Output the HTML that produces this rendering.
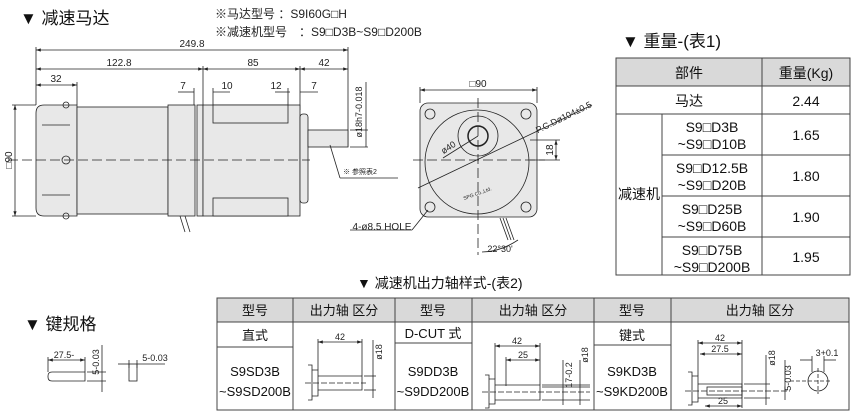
<!DOCTYPE html>
<html><head><meta charset="utf-8"><style>
body{margin:0;background:#fff;}
svg{display:block;font-family:"Liberation Sans","Noto Sans CJK SC",sans-serif;}
</style></head><body>
<svg width="860" height="414" viewBox="0 0 860 414" xmlns="http://www.w3.org/2000/svg">
<defs>
<marker id="a" markerWidth="6" markerHeight="6" refX="6" refY="3" orient="auto-start-reverse"><path d="M0,1 L6,3 L0,5z" fill="#222"/></marker>
</defs>
<!-- titles -->
<text x="20" y="24" font-size="17" fill="#111">▼ 减速马达</text>
<text x="215" y="18" font-size="12" fill="#222">※马达型号 ：S9I60G□H</text>
<text x="215" y="36" font-size="12" fill="#222">※减速机型号　：S9□D3B~S9□D200B</text>

<g stroke="#222" stroke-width="0.8" fill="none">
<!-- dimension lines -->
<line x1="36" y1="50" x2="348" y2="50" marker-start="url(#a)" marker-end="url(#a)"/>
<line x1="36" y1="69" x2="203" y2="69" marker-start="url(#a)" marker-end="url(#a)"/>
<line x1="203" y1="69" x2="300" y2="69" marker-start="url(#a)" marker-end="url(#a)"/>
<line x1="300" y1="69" x2="348" y2="69" marker-start="url(#a)" marker-end="url(#a)"/>
<line x1="36" y1="85" x2="77" y2="85" marker-start="url(#a)" marker-end="url(#a)"/>
<line x1="36" y1="47" x2="36" y2="105"/><line x1="348" y1="47" x2="348" y2="147"/>
<line x1="203" y1="66" x2="203" y2="216"/><line x1="300" y1="66" x2="300" y2="110"/>
<line x1="77" y1="82" x2="77" y2="105"/>
<line x1="178" y1="92" x2="194" y2="92"/><line x1="194" y1="88" x2="194" y2="110"/>
<line x1="213" y1="92" x2="230" y2="92"/><line x1="213" y1="88" x2="213" y2="110"/>
<line x1="275" y1="92" x2="290" y2="92"/><line x1="288" y1="88" x2="288" y2="110"/>
<line x1="300" y1="92" x2="318" y2="92"/>
<line x1="15" y1="105" x2="15" y2="216" marker-start="url(#a)" marker-end="url(#a)"/>
<line x1="12" y1="105" x2="36" y2="105"/><line x1="12" y1="216" x2="36" y2="216"/>
<line x1="366" y1="82" x2="366" y2="147"/><line x1="350" y1="130" x2="368" y2="130"/><line x1="350" y1="147" x2="368" y2="147"/>
<!-- motor body -->
<path d="M44,105 H77 V216 H44 Q36,216 36,208 V113 Q36,105 44,105Z" fill="#e8e8e8"/>
<rect x="77" y="107" width="91" height="107" fill="#e8e8e8"/>
<rect x="168" y="105" width="27" height="111" fill="#e8e8e8"/>
<rect x="197" y="105" width="6" height="111" fill="#e8e8e8"/>
<rect x="203" y="105" width="97" height="111" fill="#e8e8e8"/>
<rect x="213" y="105" width="75" height="18" fill="#e8e8e8"/>
<rect x="213" y="198" width="75" height="18" fill="#e8e8e8"/>
<rect x="300" y="114" width="8" height="89" rx="3" fill="#e8e8e8"/>
<rect x="308" y="130" width="40" height="17" fill="#e8e8e8"/>
<line x1="42" y1="125" x2="70" y2="125"/><line x1="42" y1="195" x2="70" y2="195"/>
<line x1="180" y1="216" x2="185" y2="232"/><line x1="185" y1="216" x2="190" y2="232"/>
<line x1="8" y1="160" x2="310" y2="160" stroke-dasharray="10,4"/>
<circle cx="66" cy="160" r="4"/><circle cx="66" cy="105" r="3"/><circle cx="66" cy="216" r="3"/>
<line x1="330" y1="145" x2="340" y2="178"/><line x1="340" y1="178" x2="398" y2="178"/>
<!-- front view -->
<rect x="420" y="103" width="117" height="114" rx="8" fill="#e8e8e8"/>
<circle cx="477" cy="162" r="52"/>
<circle cx="478" cy="136" r="20"/>
<circle cx="478" cy="136" r="10" stroke-width="1.5"/>
<circle cx="430" cy="114" r="5"/><circle cx="526" cy="114" r="5"/><circle cx="430" cy="207" r="5"/><circle cx="526" cy="207" r="5"/>
<line x1="413" y1="160" x2="545" y2="160" stroke-dasharray="10,4"/>
<line x1="478" y1="98" x2="478" y2="255" stroke-dasharray="10,4"/>
<line x1="420" y1="90" x2="537" y2="90" marker-start="url(#a)" marker-end="url(#a)"/>
<line x1="420" y1="87" x2="420" y2="103"/><line x1="537" y1="87" x2="537" y2="103"/>
<line x1="418" y1="188" x2="592" y2="105"/>
<line x1="443" y1="158" x2="478" y2="136"/>
<line x1="530" y1="140" x2="560" y2="140"/><line x1="530" y1="160" x2="560" y2="160"/>
<line x1="556" y1="140" x2="556" y2="160" marker-start="url(#a)" marker-end="url(#a)"/>
<line x1="500" y1="218" x2="508" y2="240"/><line x1="503" y1="218" x2="511" y2="240"/><line x1="506" y1="218" x2="514" y2="240"/>
<path d="M482,252 Q500,252 518,240"/>
<line x1="350" y1="230" x2="412" y2="230"/><line x1="412" y1="230" x2="428" y2="210"/>
</g>
<g font-size="10" fill="#222" text-anchor="middle">
<text x="192" y="47">249.8</text><text x="119" y="66">122.8</text><text x="253" y="66">85</text><text x="324" y="66">42</text>
<text x="56" y="82">32</text><text x="183" y="89">7</text><text x="227" y="89">10</text><text x="276" y="89">12</text><text x="314" y="89">7</text>
<text x="478" y="87">□90</text>
<text x="382" y="230">4-ø8.5 HOLE</text>
<text x="500" y="252" font-size="9">22°30'</text>
<text transform="translate(12,160) rotate(-90)">□90</text>
<text transform="translate(362,112) rotate(-90)" font-size="9">ø18h7-0.018</text>
<text transform="translate(553,150) rotate(-90)">18</text>
<text transform="translate(450,150) rotate(-33)" font-size="9">ø40</text>
<text transform="translate(565,120) rotate(-26)" font-size="9">P.C.Dø104±0.5</text>
<text x="360" y="174" font-size="7">※ 参照表2</text>
<text x="478" y="195" font-size="5" transform="rotate(-20,478,195)">SPG Co.,Ltd.</text>
</g>

<!-- Table 1 -->
<text x="622" y="47" font-size="17" fill="#111">▼ 重量-(表1)</text>
<g stroke="#444" stroke-width="1">
<rect x="616" y="58" width="234" height="28" fill="#d9d9d9"/>
<rect x="616" y="86" width="234" height="189" fill="#fff"/>
<line x1="762" y1="58" x2="762" y2="275"/>
<line x1="616" y1="114" x2="850" y2="114"/>
<line x1="662" y1="114" x2="662" y2="275"/>
<line x1="662" y1="155" x2="850" y2="155"/><line x1="662" y1="196" x2="850" y2="196"/><line x1="662" y1="237" x2="850" y2="237"/>
</g>
<g font-size="14" fill="#111" text-anchor="middle">
<text x="689" y="78">部件</text><text x="806" y="78">重量(Kg)</text>
<text x="689" y="106">马达</text><text x="806" y="106">2.44</text>
<text x="639" y="199">减速机</text>
<text x="712" y="132">S9□D3B</text><text x="712" y="149">~S9□D10B</text><text x="806" y="140">1.65</text>
<text x="712" y="173">S9□D12.5B</text><text x="712" y="190">~S9□D20B</text><text x="806" y="181">1.80</text>
<text x="712" y="214">S9□D25B</text><text x="712" y="231">~S9□D60B</text><text x="806" y="222">1.90</text>
<text x="712" y="255">S9□D75B</text><text x="712" y="272">~S9□D200B</text><text x="806" y="262">1.95</text>
</g>

<!-- Table 2 -->
<text x="357" y="288" font-size="14" fill="#111">▼ 减速机出力轴样式-(表2)</text>
<g stroke="#444" stroke-width="1">
<rect x="217" y="298" width="632" height="24" fill="#d9d9d9"/>
<rect x="217" y="322" width="632" height="88" fill="#fff"/>
<line x1="293" y1="298" x2="293" y2="410"/><line x1="395" y1="298" x2="395" y2="410"/>
<line x1="472" y1="298" x2="472" y2="410"/><line x1="594" y1="298" x2="594" y2="410"/>
<line x1="671" y1="298" x2="671" y2="410"/>
<line x1="217" y1="347" x2="293" y2="347"/><line x1="395" y1="343" x2="472" y2="343"/><line x1="594" y1="345" x2="671" y2="345"/>
</g>
<g font-size="13" fill="#111" text-anchor="middle">
<text x="255" y="315">型号</text><text x="344" y="315">出力轴 区分</text>
<text x="433" y="315">型号</text><text x="533" y="315">出力轴 区分</text>
<text x="632" y="315">型号</text><text x="760" y="315">出力轴 区分</text>
<text x="255" y="340">直式</text><text x="433" y="338">D-CUT 式</text><text x="632" y="340">键式</text>
<text x="255" y="376">S9SD3B</text><text x="255" y="396">~S9SD200B</text>
<text x="433" y="376">S9DD3B</text><text x="433" y="396">~S9DD200B</text>
<text x="632" y="376">S9KD3B</text><text x="632" y="396">~S9KD200B</text>
</g>
<!-- shaft drawings -->
<g stroke="#222" stroke-width="0.8" fill="none">
<path d="M308,365 H312 V400 H308 M312,370 H318 V396 H312 M318,376 H362 V390 H318"/>
<line x1="305" y1="383" x2="366" y2="383" stroke-dasharray="6,2"/>
<line x1="318" y1="342" x2="362" y2="342" marker-start="url(#a)" marker-end="url(#a)"/>
<line x1="318" y1="339" x2="318" y2="370"/><line x1="362" y1="339" x2="362" y2="376"/>
<line x1="364" y1="376" x2="376" y2="376"/><line x1="364" y1="390" x2="376" y2="390"/>
<line x1="373" y1="340" x2="373" y2="398"/>
<path d="M485,375 H489 V408 H485 M489,379 H495 V404 H489 M495,385 H540 V400 H495"/>
<line x1="482" y1="392" x2="590" y2="392" stroke-dasharray="6,2"/>
<line x1="495" y1="346" x2="540" y2="346" marker-start="url(#a)" marker-end="url(#a)"/>
<line x1="506" y1="360" x2="540" y2="360" marker-start="url(#a)" marker-end="url(#a)"/>
<line x1="495" y1="343" x2="495" y2="379"/><line x1="540" y1="343" x2="540" y2="385"/><line x1="506" y1="357" x2="506" y2="386"/>
<line x1="542" y1="387" x2="590" y2="387"/><line x1="542" y1="400" x2="590" y2="400"/><line x1="542" y1="385" x2="590" y2="385"/>
<line x1="563" y1="360" x2="563" y2="405"/><line x1="580" y1="360" x2="580" y2="405"/>
<path d="M688,372 H692 V405 H688 M692,376 H698 V402 H692 M698,384 H742 V398 H698"/>
<line x1="685" y1="391" x2="790" y2="391" stroke-dasharray="6,2"/>
<line x1="698" y1="343" x2="742" y2="343" marker-start="url(#a)" marker-end="url(#a)"/>
<line x1="700" y1="354" x2="742" y2="354" marker-start="url(#a)" marker-end="url(#a)"/>
<line x1="705" y1="406" x2="742" y2="406" marker-start="url(#a)" marker-end="url(#a)"/>
<line x1="698" y1="340" x2="698" y2="376"/><line x1="742" y1="340" x2="742" y2="408"/>
<rect x="707" y="387" width="35" height="8"/>
<line x1="744" y1="384" x2="770" y2="384"/><line x1="744" y1="398" x2="770" y2="398"/>
<line x1="766" y1="355" x2="766" y2="405"/><line x1="785" y1="360" x2="785" y2="400"/>
<circle cx="818" cy="381" r="10"/>
<line x1="790" y1="381" x2="832" y2="381" stroke-dasharray="4,2"/><line x1="818" y1="368" x2="818" y2="394" stroke-dasharray="4,2"/>
<line x1="812" y1="356" x2="812" y2="372"/><line x1="824" y1="356" x2="824" y2="372"/>
<line x1="800" y1="360" x2="812" y2="360"/><line x1="824" y1="360" x2="836" y2="360"/>
</g>
<g font-size="9" fill="#222" text-anchor="middle">
<text x="340" y="340">42</text><text transform="translate(382,352) rotate(-90)">ø18</text>
<text x="517" y="344">42</text><text x="523" y="358">25</text>
<text transform="translate(572,375) rotate(-90)">17-0.2</text><text transform="translate(588,355) rotate(-90)">ø18</text>
<text x="720" y="341">42</text><text x="720" y="352">27.5</text><text x="723" y="404">25</text>
<text transform="translate(775,358) rotate(-90)">ø18</text><text transform="translate(791,378) rotate(-90)">5-0.03</text>
<text x="827" y="356">3+0.1</text>
</g>

<!-- key spec -->
<text x="24" y="330" font-size="17" fill="#111">▼ 键规格</text>
<g stroke="#222" stroke-width="0.8" fill="none">
<path d="M52,372 H85 V381 H52 Q48,381 48,377 V376 Q48,372 52,372Z"/>
<line x1="48" y1="360" x2="85" y2="360" marker-start="url(#a)" marker-end="url(#a)"/>
<line x1="48" y1="357" x2="48" y2="372"/><line x1="85" y1="357" x2="85" y2="372"/>
<line x1="87" y1="372" x2="106" y2="372"/><line x1="87" y1="381" x2="106" y2="381"/>
<line x1="102" y1="345" x2="102" y2="392"/>
<rect x="129" y="364" width="8" height="17"/>
<line x1="118" y1="364" x2="129" y2="364"/><line x1="137" y1="364" x2="165" y2="364"/>
<line x1="129" y1="360" x2="129" y2="368"/><line x1="137" y1="360" x2="137" y2="368"/>
</g>
<g font-size="9" fill="#222" text-anchor="middle">
<text x="64" y="358">27.5-</text>
<text transform="translate(99,362) rotate(-90)">5-0.03</text>
<text x="155" y="361">5-0.03</text>
</g>
</svg>
</body></html>
